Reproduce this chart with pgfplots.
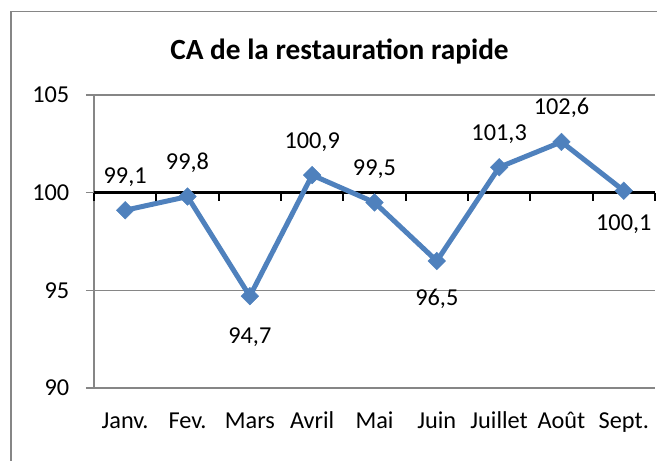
\documentclass[border=0pt]{standalone}
\usepackage{fontspec}
\setmainfont{Carlito}
\usepackage{pgfplots}
\usepackage{pgfplotstable}
\pgfplotsset{compat=1.18}
\definecolor{serie}{RGB}{79,129,189}
\definecolor{grille}{RGB}{134,134,134}
\pgfplotstableread{
x y off
1 99.1 27
2 99.8 27
3 94.7 -47
4 100.9 27
5 99.5 27
6 96.5 -44
7 101.3 27
8 102.6 27
9 100.1 -39.5
}\data
\begin{document}
\begin{tikzpicture}
\useasboundingbox (0bp,0bp) rectangle (657bp,461bp);
\clip (0bp,0bp) rectangle (657bp,461bp);
\draw[grille, line width=1.3bp] (11bp,-10bp) -- (11bp,449.3bp) -- (680bp,449.3bp);
\node[font=\fontsize{29.3bp}{34bp}\selectfont\bfseries, anchor=base, inner sep=0pt] at (339.5bp,401bp) {CA de la restauration rapide};
\begin{axis}[at={(94bp,73bp)}, anchor=south west, scale only axis,
  width=561bp, height=293bp,
  xmin=0.5, xmax=9.5, ymin=90, ymax=105,
  axis x line*=bottom, axis y line*=left,
  axis line style={grille, line width=1.3bp},
  ymajorgrids, grid style={grille, line width=1.3bp},
  ytick={90,95,100,105}, xtick={1,...,9},
  xticklabels={Janv.,Fev.,Mars,Avril,Mai,Juin,Juillet,Août,Sept.},
  tick align=outside, major tick length=8bp,
  ytick style={grille, line width=1.3bp}, xtick style={draw=none},
  tick label style={font=\fontsize{24.3bp}{28bp}\selectfont, text=black},
  yticklabel style={anchor=east, inner sep=0pt, xshift=-16.5bp},
  xticklabel style={anchor=base, inner sep=0pt, yshift=-32bp},
  /pgf/number format/assume math mode=true,
  clip=false,
]
\draw[black, line width=2.6bp] (axis cs:0.5,100) -- (axis cs:9.5,100);
\pgfplotsinvokeforeach{0.5,1.5,...,9.5}{
  \draw[black, line width=2.3bp] (axis cs:#1,100) -- ([yshift=-8bp]axis cs:#1,100);
}
\addplot[serie, line width=5bp, mark=square*, mark size=6.2bp,
  mark options={rotate=45, solid, line width=0.5bp, fill=serie}]
  table[x=x, y=y]{\data};
\addplot[draw=none, mark=none, point meta=\thisrow{y},
  visualization depends on={\thisrow{off} \as \off},
  nodes near coords={\pgfmathprintnumber[fixed, fixed zerofill, precision=1, use comma, assume math mode=true]{\pgfplotspointmeta}},
  every node near coord/.append style={anchor=base, inner sep=0pt, yshift=\off bp,
    font=\fontsize{24.3bp}{28bp}\selectfont, text=black}]
  table[x=x, y=y]{\data};
\end{axis}
\end{tikzpicture}
\end{document}
